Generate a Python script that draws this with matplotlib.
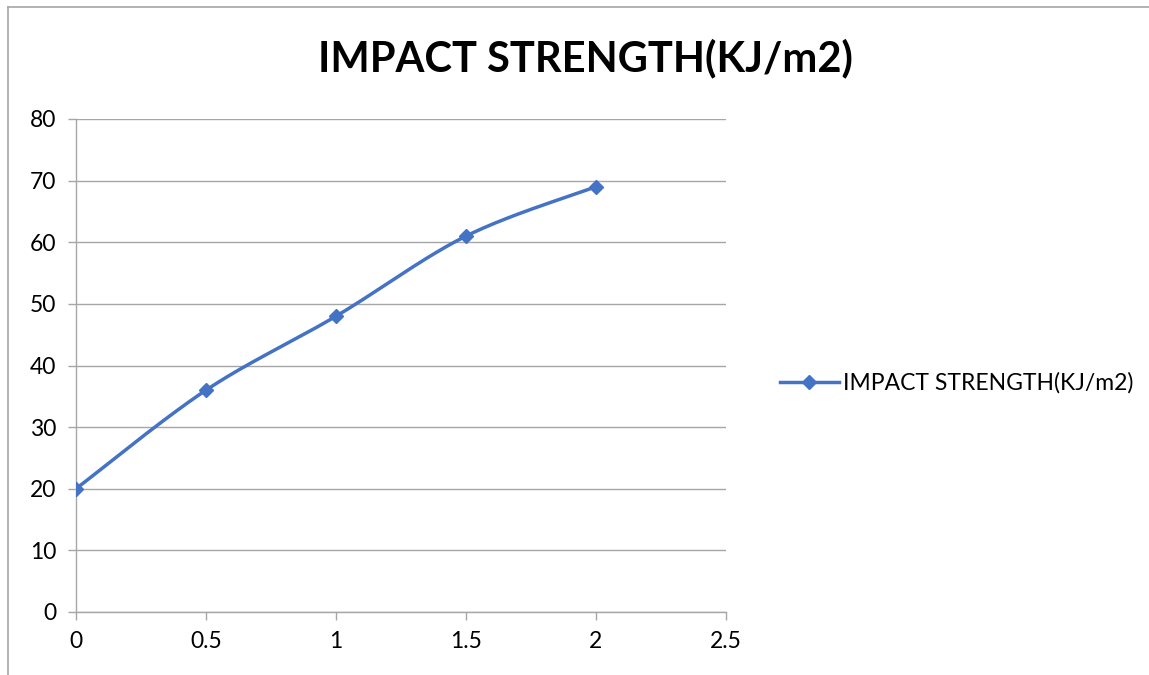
import numpy as np
import matplotlib
matplotlib.use("Agg")
import matplotlib.pyplot as plt
from matplotlib.lines import Line2D

x_vals = [0, 0.5, 1, 1.5, 2]
y_vals = [20, 36, 48, 61, 69]
series_name = "IMPACT STRENGTH(KJ/m2)"
title = "IMPACT STRENGTH(KJ/m2)"
x_ticks = [0, 0.5, 1, 1.5, 2, 2.5]
x_tick_labels = ["0", "0.5", "1", "1.5", "2", "2.5"]
y_ticks = [0, 10, 20, 30, 40, 50, 60, 70, 80]

plt.rcParams['font.family'] = ['Lato', 'DejaVu Sans']

def smooth(xs, ys, n=40, t=0.5):
    xs = np.asarray(xs, float); ys = np.asarray(ys, float)
    px = np.concatenate([[xs[0]], xs, [xs[-1]]])
    py = np.concatenate([[ys[0]], ys, [ys[-1]]])
    outx, outy = [], []
    for i in range(1, len(px) - 2):
        p0 = np.array([px[i-1], py[i-1]]); p1 = np.array([px[i], py[i]])
        p2 = np.array([px[i+1], py[i+1]]); p3 = np.array([px[i+2], py[i+2]])
        c1 = p1 + (p2 - p0) * t / 3
        c2 = p2 - (p3 - p1) * t / 3
        s = np.linspace(0, 1, n)[:, None]
        b = (1-s)**3*p1 + 3*(1-s)**2*s*c1 + 3*(1-s)*s**2*c2 + s**3*p2
        outx.extend(b[:, 0]); outy.extend(b[:, 1])
    return outx, outy

fig = plt.figure(figsize=(11.49, 6.75), dpi=100)
ax = fig.add_axes([76/1149, 1-612/675, 650/1149, 493/675])

color = "#4472C4"
sx, sy = smooth(x_vals, y_vals)
ax.plot(sx, sy, color=color, lw=2.5, solid_capstyle='round', zorder=3)
ax.plot(x_vals, y_vals, linestyle='none', marker='D', markersize=7.5, color=color, zorder=4)

ax.set_xlim(0, 2.5)
ax.set_ylim(0, 80)
ax.set_xticks(x_ticks)
ax.set_xticklabels(x_tick_labels)
ax.set_yticks(y_ticks)
ax.grid(axis='y', color='#a6a6a6', lw=1)
ax.set_axisbelow(True)
for s in ['top', 'right']:
    ax.spines[s].set_visible(False)
for s in ['left', 'bottom']:
    ax.spines[s].set_color('#a6a6a6')
    ax.spines[s].set_linewidth(1)
ax.tick_params(axis='both', colors='#a6a6a6', labelcolor='black', labelsize=16.5, length=6, width=1)
ax.tick_params(axis='x', pad=8)
ax.tick_params(axis='y', pad=8)

fig.text(585/1149, 1-58/675, title, ha='center', va='center', fontsize=30, fontweight='bold')

handle = Line2D([], [], color=color, lw=2.5, marker='D', markersize=7.5)
fig.legend([handle], [series_name], loc='center left', bbox_to_anchor=(759/1149, 1-383/675),
           frameon=False, fontsize=16.5, handlelength=2.6, handletextpad=0.15)

# outer chart frame (left and top edges visible)
fig.add_artist(Line2D([8/1149, 8/1149], [0, 1-7/675], transform=fig.transFigure, color='#a6a6a6', lw=1.2))
fig.add_artist(Line2D([8/1149, 1], [1-7/675, 1-7/675], transform=fig.transFigure, color='#a6a6a6', lw=1.2))

fig.savefig("out.png", dpi=100)
